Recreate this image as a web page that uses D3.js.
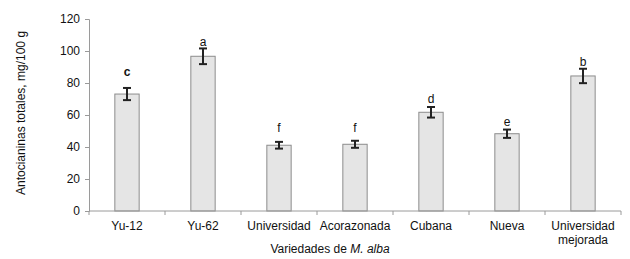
<!DOCTYPE html>
<html>
<head>
<meta charset="utf-8">
<script src="https://cdn.jsdelivr.net/npm/d3@7"></script>
<style>
  body { margin: 0; background: #fff; }
  text { font-family: "Liberation Sans", Arial, sans-serif; fill: #111; }
</style>
</head>
<body>
<svg id="chart" width="630" height="259"></svg>
<script>
// categories and values
var categories = ["Yu-12", "Yu-62", "Universidad", "Acorazonada", "Cubana", "Nueva", "Universidad\nmejorada"];
var values = [73.1, 96.7, 41.1, 41.7, 61.7, 48.3, 84.4];
var errors = [3.8, 4.9, 2.1, 2.2, 3.3, 2.6, 4.5];
var letters = ["c", "a", "f", "f", "d", "e", "b"];
var letterAt = [84.1, 103.4, 49.1, 49.5, 67.8, 53.4, 90.9];
var yTicks = [0, 20, 40, 60, 80, 100, 120];

var svg = d3.select("#chart");
var plotL = 89, plotR = 621, plotT = 19, plotB = 211;

var x = d3.scaleBand()
  .domain(d3.range(categories.length))
  .range([plotL, plotR])
  .padding(0);

var y = d3.scaleLinear()
  .domain([0, 120])
  .range([plotB, plotT]);

var bw = x.bandwidth() * 0.32;

// bars
svg.append("g").selectAll("rect")
  .data(values)
  .join("rect")
  .attr("x", function(d, i) { return x(i) + x.bandwidth() / 2 - bw / 2; })
  .attr("y", function(d) { return y(d); })
  .attr("width", bw)
  .attr("height", function(d) { return y(0) - y(d); })
  .attr("fill", "#e5e5e5")
  .attr("stroke", "#8c8c8c")
  .attr("stroke-width", 1);

// y axis
var yAxis = svg.append("g")
  .attr("transform", "translate(" + plotL + ",0)")
  .call(d3.axisLeft(y).tickValues(yTicks).tickSize(4).tickPadding(5));
yAxis.select(".domain").attr("stroke", "#9a9a9a");
yAxis.selectAll(".tick line").attr("stroke", "#9a9a9a");
yAxis.selectAll(".tick text")
  .style("font-family", "Liberation Sans, Arial, sans-serif")
  .style("font-size", "12px")
  .attr("fill", "#111");

// x axis line and boundary ticks
var xg = svg.append("g");
xg.append("line")
  .attr("x1", plotL).attr("x2", plotR)
  .attr("y1", y(0)).attr("y2", y(0))
  .attr("stroke", "#9a9a9a");
xg.selectAll(".bt")
  .data(d3.range(categories.length + 1))
  .join("line")
  .attr("class", "bt")
  .attr("x1", function(i) { return plotL + i * x.step(); })
  .attr("x2", function(i) { return plotL + i * x.step(); })
  .attr("y1", y(0)).attr("y2", y(0) + 4)
  .attr("stroke", "#9a9a9a");

// category labels
xg.selectAll(".cl")
  .data(categories)
  .join("text")
  .attr("class", "cl")
  .attr("text-anchor", "middle")
  .style("font-size", "12px")
  .each(function(d, i) {
    var t = d3.select(this);
    d.split("\n").forEach(function(part, k) {
      t.append("tspan")
        .attr("x", x(i) + x.bandwidth() / 2)
        .attr("y", 230 + k * 14)
        .text(part);
    });
  });

// error bars
var eg = svg.append("g").attr("stroke", "#222").attr("stroke-width", 2);
values.forEach(function(v, i) {
  var cx = x(i) + x.bandwidth() / 2;
  eg.append("line").attr("x1", cx).attr("x2", cx)
    .attr("y1", y(v - errors[i])).attr("y2", y(v + errors[i]));
  [v - errors[i], v + errors[i]].forEach(function(e) {
    eg.append("line").attr("x1", cx - 4).attr("x2", cx + 4)
      .attr("y1", y(e)).attr("y2", y(e));
  });
});

// significance letters
svg.append("g").selectAll("text")
  .data(letters)
  .join("text")
  .attr("x", function(d, i) { return x(i) + x.bandwidth() / 2; })
  .attr("y", function(d, i) { return y(letterAt[i]); })
  .attr("text-anchor", "middle")
  .style("font-size", "12px")
  .style("font-weight", function(d, i) { return i === 0 ? "bold" : "normal"; })
  .text(function(d) { return d; });

// axis titles
var xt = svg.append("text")
  .attr("x", 330).attr("y", 253)
  .attr("text-anchor", "middle")
  .style("font-size", "12px");
xt.append("tspan").text("Variedades de ");
xt.append("tspan").style("font-style", "italic").text("M. alba");

svg.append("text")
  .attr("transform", "translate(25,113) rotate(-90)")
  .attr("text-anchor", "middle")
  .style("font-size", "12px")
  .text("Antocianinas totales, mg/100 g");
</script>
</body>
</html>
